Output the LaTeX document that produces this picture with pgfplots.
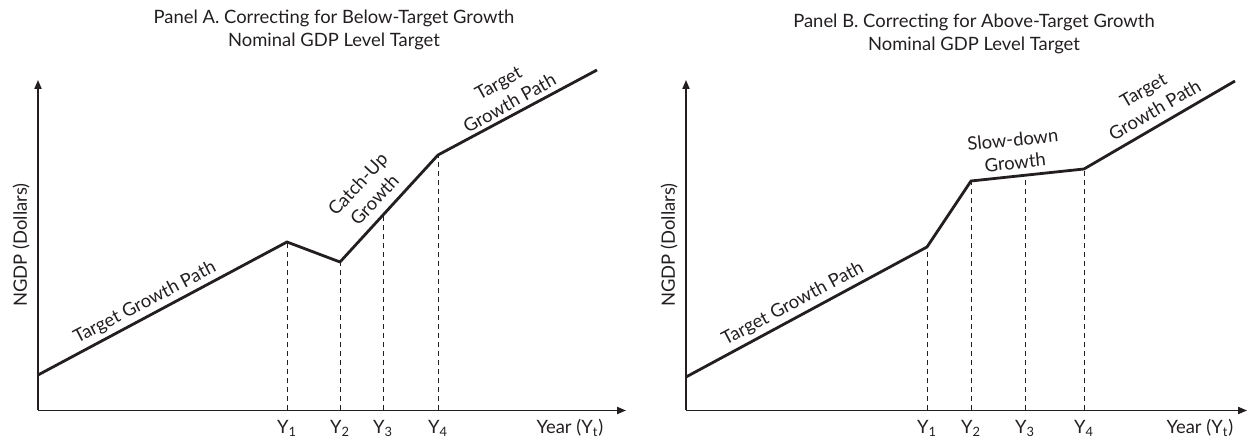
\documentclass[border=0pt]{standalone}
\usepackage{pgfplots}
\pgfplotsset{compat=1.18}
\usepackage{fontspec}
\setmainfont{Lato}
\usetikzlibrary{arrows.meta}
\definecolor{ink}{HTML}{231F20}
\begin{document}
\begin{tikzpicture}[font=\fontsize{9.2}{11.5}\selectfont]
\path[use as bounding box] (0,0) rectangle (624pt,219pt);
\pgfplotsset{
  panel/.style={
    x=0.5pt, y=0.5pt,
    anchor=south west,
    axis x line=bottom, axis y line=left,
    axis line style={ink, line width=0.7pt, -{Triangle[length=4.5pt,width=3.6pt]}},
    ymin=27.5, ymax=358,
    ytick=\empty,
    major tick length=0pt,
    xtick style={draw=none},
    clip=false,
    tick label style={font=\fontsize{9.2}{11}\selectfont, text=ink},
    xticklabel style={yshift=-1.5pt},
  },
  main/.style={ink, line width=1.4pt, line join=miter},
  dsh/.style={ink, line width=0.5pt, dash pattern=on 2.6pt off 1.9pt},
}
% Panel A
\begin{axis}[panel, at={(19pt,13.75pt)}, xmin=38, xmax=626,
  xtick={287,340,383,438},
  xticklabels={Y\textsubscript{1},Y\textsubscript{2},Y\textsubscript{3},Y\textsubscript{4}}]
\addplot[main] coordinates {(38,63) (287,196) (340,176) (438,283) (597,368)};
\addplot[dsh] coordinates {(287,27.5) (287,196)};
\addplot[dsh] coordinates {(340,27.5) (340,176)};
\addplot[dsh] coordinates {(383,27.5) (383,223)};
\addplot[dsh] coordinates {(438,27.5) (438,283)};
\node[ink, align=center] at (axis cs:334,408) {Panel A. Correcting for Below-Target Growth\\Nominal GDP Level Target};
\node[ink, rotate=90] at (axis cs:21,193) {NGDP (Dollars)};
\node[ink] at (axis cs:570,10) {Year (Y\textsubscript{t})};
\node[ink, rotate=27.5] at (axis cs:145,135) {Target Growth Path};
\node[ink, rotate=47, align=center] at (axis cs:366,246) {Catch-Up\\Growth};
\node[ink, rotate=29, align=center] at (axis cs:504,345) {Target\\Growth Path};
\end{axis}
% Panel B
\begin{axis}[panel, at={(343pt,13.75pt)}, xmin=686, xmax=1247,
  xtick={927,971,1025,1084},
  xticklabels={Y\textsubscript{1},Y\textsubscript{2},Y\textsubscript{3},Y\textsubscript{4}}]
\addplot[main] coordinates {(686,61) (927,191) (971,257) (1084,269) (1235,357)};
\addplot[dsh] coordinates {(927,27.5) (927,191)};
\addplot[dsh] coordinates {(971,27.5) (971,257)};
\addplot[dsh] coordinates {(1025,27.5) (1025,262.7)};
\addplot[dsh] coordinates {(1084,27.5) (1084,269)};
\node[ink, align=center] at (axis cs:974,404) {Panel B. Correcting for Above-Target Growth\\Nominal GDP Level Target};
\node[ink, rotate=90] at (axis cs:669,193) {NGDP (Dollars)};
\node[ink] at (axis cs:1200,10) {Year (Y\textsubscript{t})};
\node[ink, rotate=28] at (axis cs:793,134) {Target Growth Path};
\node[ink, rotate=6, align=center] at (axis cs:1014,287) {Slow-down\\Growth};
\node[ink, rotate=30, align=center] at (axis cs:1149,338) {Target\\Growth Path};
\end{axis}
\end{tikzpicture}
\end{document}
